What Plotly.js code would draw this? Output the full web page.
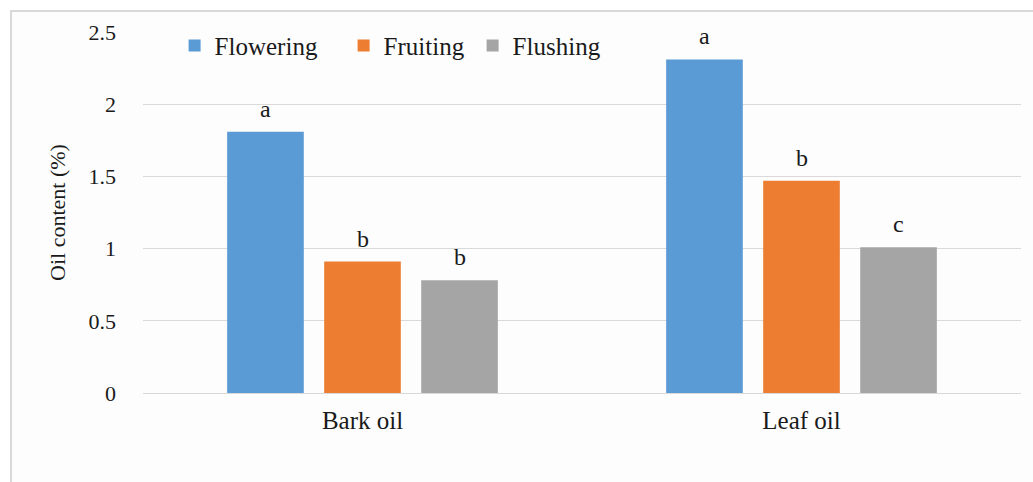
<!DOCTYPE html>
<html>
<head>
<meta charset="utf-8">
<script src="https://cdn.plot.ly/plotly-3.0.1.min.js"></script>
<style>
  html, body { margin: 0; padding: 0; background: #ffffff; overflow: hidden; }
  #frame { position: absolute; left: 10px; top: 10px; width: 1100px; height: 600px;
           border-left: 2px solid #d9d9d9; border-top: 2px solid #d9d9d9; background: #fdfdfd; }
  #chart { position: absolute; left: 0; top: 0; width: 1033px; height: 482px; }
</style>
</head>
<body>
<div id="frame"></div>
<div id="chart"></div>
<script>
const categories = ["Bark oil", "Leaf oil"];
const seriesNames = ["Flowering", "Fruiting", "Flushing"];
const flowering = [1.81, 2.31];
const fruiting = [0.91, 1.47];
const flushing = [0.78, 1.01];
const floweringLetters = ["a", "a"];
const fruitingLetters = ["b", "b"];
const flushingLetters = ["b", "c"];
const yTicks = [0, 0.5, 1, 1.5, 2, 2.5];
const yTickLabels = ["0", "0.5", "1", "1.5", "2", "2.5"];

const colors = ["#5b9bd5", "#ed7d31", "#a5a5a5"];
const legendWidths = [124, 84, 110];
const seriesValues = [flowering, fruiting, flushing];
const seriesLetters = [floweringLetters, fruitingLetters, flushingLetters];
const FONT = "Liberation Serif, Times New Roman, serif";
const bargap = 0.337;
const slot = (1 - bargap) / seriesNames.length;

const traces = seriesNames.map((name, j) => ({
  type: "bar",
  name: name,
  x: categories,
  y: seriesValues[j],
  marker: { color: colors[j] },
  legendwidth: legendWidths[j],
  hoverinfo: "none"
}));

const annotations = [];
seriesValues.forEach((vals, j) => {
  vals.forEach((v, i) => {
    annotations.push({
      xref: "x", yref: "y",
      x: i + (j - (seriesNames.length - 1) / 2) * slot,
      y: v,
      text: seriesLetters[j][i],
      showarrow: false,
      yanchor: "bottom",
      yshift: 8,
      font: { family: FONT, size: 24, color: "#1a1a1a" }
    });
  });
});

const layout = {
  width: 1033, height: 482,
  margin: { l: 143, r: 12, t: 32, b: 89, pad: 0 },
  paper_bgcolor: "rgba(0,0,0,0)",
  plot_bgcolor: "rgba(0,0,0,0)",
  barmode: "group",
  bargap: bargap,
  bargroupgap: 0.21,
  font: { family: FONT, color: "#1a1a1a" },
  showlegend: true,
  legend: {
    orientation: "h",
    x: 0.036, xanchor: "left",
    y: 0.962, yanchor: "middle",
    bgcolor: "rgba(0,0,0,0)",
    font: { family: FONT, size: 25, color: "#1a1a1a" },
    itemclick: false
  },
  xaxis: {
    type: "category",
    showgrid: false,
    showline: false,
    zeroline: false,
    ticks: "",
    ticklabelstandoff: 10,
    tickfont: { family: FONT, size: 25, color: "#1a1a1a" },
    fixedrange: true
  },
  yaxis: {
    range: [0, 2.5],
    tickvals: yTicks,
    ticktext: yTickLabels,
    showgrid: true,
    gridcolor: "#d9d9d9",
    gridwidth: 1,
    zeroline: true,
    zerolinecolor: "#d9d9d9",
    zerolinewidth: 1,
    showline: false,
    ticks: "",
    ticklabelstandoff: 26,
    tickfont: { family: FONT, size: 22, color: "#1a1a1a" },
    title: { text: "Oil content (%)", standoff: 16, font: { family: FONT, size: 22, color: "#1a1a1a" } },
    fixedrange: true
  },
  annotations: annotations
};

Plotly.newPlot("chart", traces, layout, { displayModeBar: false, staticPlot: true });
</script>
</body>
</html>
